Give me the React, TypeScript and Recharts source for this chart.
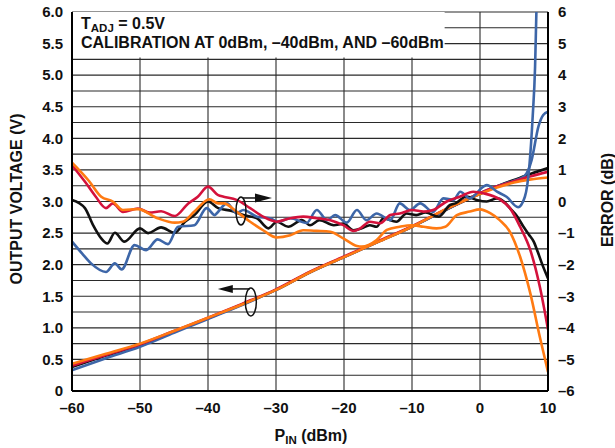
import React from 'react';
import {
  LineChart, Line, XAxis, YAxis, CartesianGrid, ReferenceArea, ReferenceDot,
} from 'recharts';

const FONT = '"Liberation Sans", Arial, Helvetica, sans-serif';

// axis ticks
const xTicks = [-60, -50, -40, -30, -20, -10, 0, 10];
const vTicks = [0, 0.5, 1, 1.5, 2, 2.5, 3, 3.5, 4, 4.5, 5, 5.5, 6];
const eTicks = [-6, -5, -4, -3, -2, -1, 0, 1, 2, 3, 4, 5, 6];
// horizontal grid every 0.25 V (labels only on vTicks)
const vGrid = [0, 0.25, 0.5, 0.75, 1, 1.25, 1.5, 1.75, 2, 2.25, 2.5, 2.75, 3, 3.25, 3.5, 3.75, 4, 4.25, 4.5, 4.75, 5, 5.25, 5.5, 5.75, 6];

// output voltage (V) vs PIN (dBm)
const voltBlack: [number, number][] = [
  [-60, 0.38], [-55, 0.56], [-50, 0.73], [-45, 0.94], [-40, 1.15], [-35, 1.37], [-30, 1.6],
  [-25, 1.88], [-20, 2.12], [-15, 2.36], [-10, 2.6], [-5, 2.87], [0, 3.12], [2.5, 3.24],
  [5, 3.34], [7.5, 3.44], [10, 3.53],
];
const voltBlue: [number, number][] = [
  [-60, 0.33], [-55, 0.52], [-50, 0.7], [-45, 0.92], [-40, 1.14], [-35, 1.36], [-30, 1.6],
  [-25, 1.88], [-20, 2.12], [-15, 2.36], [-10, 2.6], [-5, 2.87], [0, 3.13], [2.5, 3.24],
  [5, 3.33], [6.5, 3.4], [7.1, 3.5], [7.6, 3.66], [8.6, 4.19], [9.3, 4.37], [10, 4.42],
];
const voltRed: [number, number][] = [
  [-60, 0.4], [-55, 0.57], [-50, 0.74], [-45, 0.95], [-40, 1.16], [-35, 1.38], [-30, 1.61],
  [-25, 1.89], [-20, 2.13], [-15, 2.37], [-10, 2.61], [-5, 2.88], [0, 3.13], [2.5, 3.24],
  [5, 3.32], [7.5, 3.4], [10, 3.47],
];
const voltOrange: [number, number][] = [
  [-60, 0.43], [-55, 0.59], [-50, 0.75], [-45, 0.95], [-40, 1.16], [-35, 1.37], [-30, 1.6],
  [-25, 1.88], [-20, 2.12], [-15, 2.36], [-10, 2.6], [-5, 2.88], [0, 3.12], [2.5, 3.22],
  [5, 3.3], [7.5, 3.35], [10, 3.38],
];

// error (dB) vs PIN (dBm)
const errBlack: [number, number][] = [
  [-60, 0.05], [-58.1, -0.21], [-56.9, -0.75], [-55.7, -1.17], [-54.8, -1.33], [-53.7, -0.99],
  [-52.3, -1.27], [-50, -0.85], [-48.8, -1.0], [-46.9, -0.82], [-44.9, -0.99], [-43.4, -0.64],
  [-42, -0.43], [-40, 0.0], [-38.5, -0.21], [-36.5, -0.3], [-34.8, -0.43], [-32.8, -0.53],
  [-31.1, -0.85], [-29.9, -0.64], [-28.2, -0.8], [-26.2, -0.59], [-25, -0.75], [-23.6, -0.59],
  [-21.5, -0.75], [-20.1, -0.7], [-18.6, -0.91], [-17.4, -0.85], [-16.2, -0.75], [-15.2, -0.8],
  [-14.2, -0.53], [-12.3, -0.64], [-10.8, -0.38], [-9.4, -0.43], [-8, -0.35], [-6.1, -0.48],
  [-4.4, -0.11], [-3.6, -0.06], [-2, 0.16], [-0.5, 0.05], [1, 0.0], [2.5, 0.1], [3.5, 0.0],
  [4.4, -0.21], [5.4, -0.45], [6.4, -0.8], [7.2, -1.05], [7.9, -1.27], [8.5, -1.6], [9.1, -1.96],
  [10, -2.44],
];
const errBlue: [number, number][] = [
  [-60, -1.27], [-58.5, -1.65], [-57.2, -1.96], [-55, -2.23], [-53.7, -1.96], [-52.7, -2.15],
  [-50.8, -1.38], [-49.1, -1.54], [-47.4, -1.2], [-45.9, -1.35], [-44.4, -0.8], [-42, -0.75],
  [-40.2, -0.21], [-39, -0.43], [-38.7, -0.37], [-37.2, -0.06], [-35.8, -0.37], [-34.8, -0.27],
  [-32.8, -0.48], [-30.9, -0.53], [-29.7, -0.64], [-27.9, -0.53], [-25.5, -0.68], [-24, -0.27],
  [-22.5, -0.59], [-21.3, -0.43], [-19.6, -0.67], [-18.1, -0.27], [-16.7, -0.59], [-15.2, -0.38],
  [-13.2, -0.59], [-11.8, -0.06], [-10.3, -0.27], [-8.8, -0.06], [-6.9, -0.33], [-5.4, 0.1],
  [-3.9, 0.05], [-2.9, 0.31], [-1.5, 0.1], [0.5, 0.47], [1, 0.52], [2.5, 0.31], [3.9, 0.15],
  [5.6, -0.18], [6.6, 0.15], [7.25, 1.1], [7.75, 2.7], [8.1, 4.27], [8.3, 6.07], [8.5, 7.5],
];
const errRed: [number, number][] = [
  [-60, 1.15], [-58, 0.6], [-56.5, 0.15], [-55, -0.21], [-54, -0.06], [-52.5, -0.33],
  [-50.3, -0.22], [-48.6, -0.35], [-46.9, -0.31], [-44.9, -0.46], [-42.9, -0.06], [-41.5, 0.15],
  [-40, 0.47], [-38.5, 0.2], [-37.7, 0.15], [-35.8, 0.05], [-33.8, -0.21], [-31.9, -0.48],
  [-29.9, -0.64], [-27.9, -0.53], [-26, -0.48], [-24, -0.53], [-22, -0.59], [-20.1, -0.75],
  [-18.6, -0.93], [-17.6, -0.85], [-16.2, -0.64], [-14.7, -0.69], [-13.2, -0.43], [-11.8, -0.38],
  [-10, -0.27], [-8.3, -0.32], [-6.9, -0.27], [-4.9, 0.0], [-2.9, 0.16], [-1, 0.31], [0.5, 0.26],
  [2.9, 0.07], [4.4, -0.21], [5.9, -0.8], [7.4, -1.54], [8.8, -2.7], [10, -4.05],
];
const errOrange: [number, number][] = [
  [-60, 1.23], [-57.5, 0.65], [-55.7, 0.15], [-54, 0.0], [-52.5, -0.27], [-50.3, -0.24],
  [-47.4, -0.53], [-44.9, -0.67], [-43.7, -0.64], [-42, -0.32], [-39.8, 0.07], [-38.5, -0.06],
  [-37.7, -0.06], [-35.8, -0.32], [-33.8, -0.64], [-31.9, -0.91], [-29.9, -1.14], [-27.9, -1.07],
  [-26, -0.91], [-24, -0.93], [-22, -0.96], [-20.1, -1.17], [-18.1, -1.41], [-17.4, -1.43],
  [-15.2, -1.22], [-13.7, -0.9], [-11.8, -0.8], [-10, -0.75], [-8.3, -0.8], [-6.4, -0.85],
  [-5.1, -0.8], [-3.4, -0.43], [-1.5, -0.32], [0, -0.25], [1.5, -0.37], [2.9, -0.59],
  [4.4, -0.96], [5.9, -1.75], [7.4, -2.91], [8.8, -4.29], [10, -5.4],
];

const COLORS = { black: '#111111', blue: '#3d66a8', red: '#d4123c', orange: '#ff7a12' };

const rows = (pts: [number, number][]) => pts.map(([x, y]) => ({ x, y }));

const dash = (v: number) => (v < 0 ? `\u2013${Math.abs(v)}` : `${v}`);
// only label the half-volt ticks, the quarter ones are just grid
const vFmt = (v: number) => (!vTicks.includes(v) ? '' : v === 0 ? '0' : v.toFixed(1));

const tickStyle = { fontFamily: FONT, fontSize: 15, fontWeight: 700, fill: '#111' };

// ellipse + arrow markers that tie curve groups to an axis
const RightArrow = ({ cx, cy }: any) => (
  <g>
    <ellipse cx={cx} cy={cy} rx={5} ry={14} fill="none" stroke="#111" strokeWidth={1.5} />
    <line x1={cx + 2} y1={cy - 13} x2={cx + 18} y2={cy - 13} stroke="#111" strokeWidth={1.5} />
    <polygon points={`${cx + 14},${cy - 17.5} ${cx + 31},${cy - 13} ${cx + 14},${cy - 8.5}`} fill="#111" />
  </g>
);
const LeftArrow = ({ cx, cy }: any) => (
  <g>
    <ellipse cx={cx} cy={cy} rx={5.5} ry={14} fill="none" stroke="#111" strokeWidth={1.5} />
    <line x1={cx - 1} y1={cy - 13} x2={cx - 20} y2={cy - 13} stroke="#111" strokeWidth={1.5} />
    <polygon points={`${cx - 18},${cy - 17} ${cx - 33},${cy - 13} ${cx - 18},${cy - 9}`} fill="#111" />
  </g>
);

export default function App() {
  const line = (key: string, pts: [number, number][], color: string, axis?: string) => (
    <Line
      key={key}
      data={rows(pts)}
      dataKey="y"
      yAxisId={axis ?? 0}
      type="monotone"
      stroke={color}
      strokeWidth={2.6}
      dot={false}
      activeDot={false}
      isAnimationActive={false}
    />
  );

  return (
    <div style={{ position: 'absolute', left: 0, top: 0, width: 615, height: 448, background: '#fff' }}>
      <LineChart width={615} height={448} margin={{ top: 12, right: 0, bottom: 0, left: 0 }}>
        <CartesianGrid stroke="#2a2a2a" strokeWidth={1.1} />
        <XAxis
          type="number"
          dataKey="x"
          domain={[-60, 10]}
          ticks={xTicks}
          tickFormatter={dash}
          allowDataOverflow
          height={57}
          tickLine={false}
          tickSize={6}
          tickMargin={5}
          axisLine={{ stroke: '#000', strokeWidth: 2 }}
          tick={tickStyle}
        />
        <YAxis
          domain={[0, 6]}
          ticks={vGrid}
          interval={0}
          tickFormatter={vFmt}
          allowDataOverflow
          width={72}
          tickLine={false}
          tickSize={6}
          tickMargin={3}
          axisLine={{ stroke: '#000', strokeWidth: 2 }}
          tick={tickStyle}
        />
        <YAxis
          yAxisId="e"
          orientation="right"
          domain={[-6, 6]}
          ticks={eTicks}
          interval={0}
          tickFormatter={dash}
          allowDataOverflow
          width={67}
          tickLine={false}
          tickSize={6}
          tickMargin={4}
          axisLine={{ stroke: '#000', strokeWidth: 2 }}
          tick={tickStyle}
        />
        <ReferenceArea x1={-60} x2={-5.2} y1={5.28} y2={6} fill="#fff" fillOpacity={1} stroke="none" />
        {line('vBlack', voltBlack, COLORS.black)}
        {line('vBlue', voltBlue, COLORS.blue)}
        {line('vRed', voltRed, COLORS.red)}
        {line('vOrange', voltOrange, COLORS.orange)}
        {line('eBlack', errBlack, COLORS.black, 'e')}
        {line('eBlue', errBlue, COLORS.blue, 'e')}
        {line('eRed', errRed, COLORS.red, 'e')}
        {line('eOrange', errOrange, COLORS.orange, 'e')}
        <ReferenceDot x={-35.15} y={2.85} r={1} shape={(p: any) => <RightArrow {...p} />} />
        <ReferenceDot x={-33.7} y={1.41} r={1} shape={(p: any) => <LeftArrow {...p} />} />
      </LineChart>
      <svg
        width={615}
        height={448}
        style={{ position: 'absolute', left: 0, top: 0, pointerEvents: 'none' }}
        fontFamily={FONT}
        fontWeight={700}
        fill="#111"
      >
        <text x={81} y={29} fontSize={16}>
          T<tspan fontSize={11.5} dy={3}>ADJ</tspan><tspan dy={-3}> = 0.5V</tspan>
        </text>
        <text x={81} y={47.5} fontSize={16}>CALIBRATION AT 0dBm, {'\u2013'}40dBm, AND {'\u2013'}60dBm</text>
        <text transform="translate(22,199) rotate(-90)" textAnchor="middle" fontSize={16}>
          OUTPUT VOLTAGE (V)
        </text>
        <text transform="translate(613,200) rotate(-90)" textAnchor="middle" fontSize={16}>
          ERROR (dB)
        </text>
        <text x={311} y={441} textAnchor="middle" fontSize={16}>
          P<tspan fontSize={11.5} dy={3}>IN</tspan><tspan dy={-3}> (dBm)</tspan>
        </text>
      </svg>
    </div>
  );
}
